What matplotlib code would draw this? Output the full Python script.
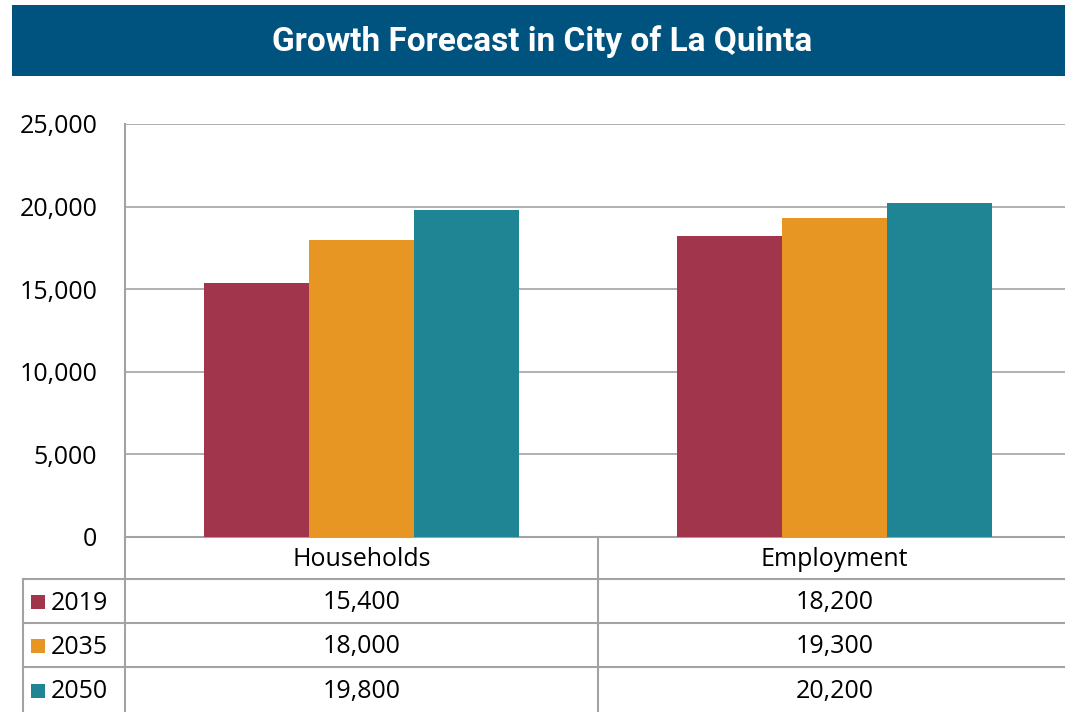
import matplotlib
matplotlib.use('Agg')
import matplotlib.pyplot as plt
from matplotlib.patches import Rectangle
from matplotlib.lines import Line2D
from matplotlib.transforms import blended_transform_factory
from matplotlib.ticker import FuncFormatter

# data
categories = ['Households', 'Employment']
years = ['2019', '2035', '2050']
values_2019 = [15400, 18200]
values_2035 = [18000, 19300]
values_2050 = [19800, 20200]
colors = ['#A0354B', '#E89623', '#1F8494']
series = [values_2019, values_2035, values_2050]

W, H = 1065, 712
plt.rcParams['font.family'] = ['Open Sans', 'DejaVu Sans']
fig = plt.figure(figsize=(W / 100, H / 100), dpi=100)

def fx(x):
    return x / W

def fy(y):
    return 1 - y / H

grid_col = '#a3a3a3'

# title bar
fig.patches.append(Rectangle((fx(12), fy(76)), fx(1065) - fx(12), fy(5) - fy(76),
                             transform=fig.transFigure, facecolor='#00527F', edgecolor='none'))
fig.text(fx(542), fy(42), 'Growth Forecast in City of La Quinta', color='white',
         fontsize=24, fontweight='bold', family=['Roboto', 'DejaVu Sans'],
         ha='center', va='center')

# chart axes (right edge runs past the figure edge like the original)
ax = fig.add_axes([fx(125), fy(537), (1071 - 125) / W, (537 - 124) / H])
n = len(categories)
w = (1 / 3 * 2) / len(years)
for j, (vals, c) in enumerate(zip(series, colors)):
    xs = [i + 0.5 + (j - 1) * w for i in range(n)]
    ax.bar(xs, vals, width=w, color=c, zorder=3)

ax.set_xlim(0, n)
ax.set_ylim(0, 25000)
ax.set_yticks(range(0, 25001, 5000))
ax.yaxis.set_major_formatter(FuncFormatter(lambda v, p: f'{int(v):,}'))
ax.set_xticks([])
ax.tick_params(axis='y', length=0, pad=20, labelsize=18, labelcolor='black')
ax.grid(axis='y', color=grid_col, linewidth=1.2, zorder=0)
for s in ['top', 'right']:
    ax.spines[s].set_visible(False)
for s in ['left', 'bottom']:
    ax.spines[s].set_color(grid_col)
    ax.spines[s].set_linewidth(1.5)

# data table under the chart
tr = blended_transform_factory(ax.transData, fig.transFigure)
row_edges = [537, 579, 623, 667, 712]
for y in row_edges[1:4]:
    fig.add_artist(Line2D([fx(23), 1.0], [fy(y), fy(y)], transform=fig.transFigure,
                          color=grid_col, linewidth=1.5))
fig.add_artist(Line2D([fx(23), fx(23)], [fy(579), 0], transform=fig.transFigure,
                      color=grid_col, linewidth=1.5))
for i in range(n + 1):
    ax.add_artist(Line2D([i, i], [fy(537), 0], transform=tr, color=grid_col,
                         linewidth=1.5, clip_on=False))

fs = 18
hdr_y = (row_edges[0] + row_edges[1]) / 2 + 2
for i, cat in enumerate(categories):
    ax.text(i + 0.5, fy(hdr_y), cat, transform=tr, ha='center', va='center',
            fontsize=fs, clip_on=False)
for j, (yr, vals, c) in enumerate(zip(years, series, colors)):
    yc = (row_edges[j + 1] + row_edges[j + 2]) / 2 + 1
    fig.patches.append(Rectangle((fx(31), fy(yc + 7)), 14 / W, 14 / H,
                                 transform=fig.transFigure, facecolor=c, edgecolor='none'))
    fig.text(fx(51), fy(yc + 1), yr, ha='left', va='center', fontsize=fs)
    for i, v in enumerate(vals):
        ax.text(i + 0.5, fy(yc + 1), f'{v:,}', transform=tr, ha='center', va='center',
                fontsize=fs, clip_on=False)

fig.savefig('out.png', dpi=100)
